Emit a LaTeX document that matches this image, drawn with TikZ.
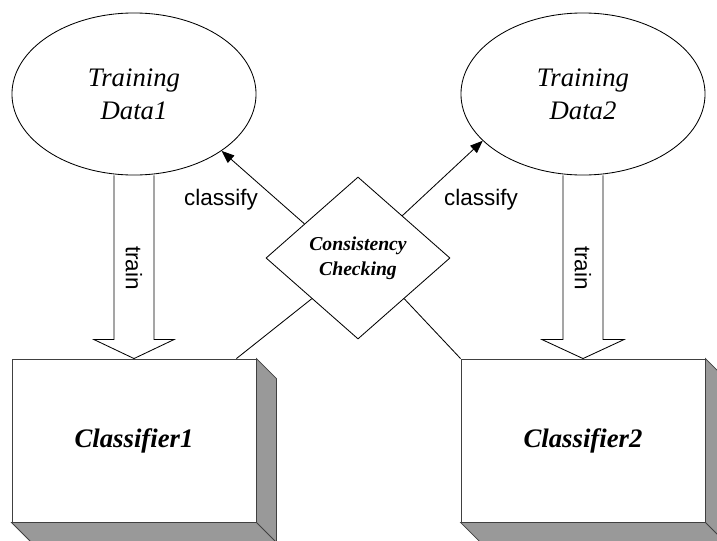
\documentclass[tikz,border=0pt]{standalone}
\usepackage{fontspec}
\setmainfont{Liberation Serif}
\setsansfont{Liberation Sans}
\usepackage{tikz}
\usetikzlibrary{positioning, arrows.meta, shapes.geometric, calc}

\tikzset{
    data/.style={ellipse, draw, fill=white, minimum width=6.1cm, minimum height=4.05cm,
        align=center, font=\itshape\fontsize{19}{23.4}\selectfont},
    classifier/.style={rectangle, draw=black!75, fill=white, minimum width=6.1cm,
        minimum height=4.075cm, font=\bfseries\itshape\fontsize{19}{23}\selectfont},
    checker/.style={diamond, draw, fill=white, minimum width=4.6cm, minimum height=4.05cm,
        inner sep=0pt, align=center, font=\bfseries\itshape\fontsize{14}{17.7}\selectfont},
    side/.style={draw=black!75, fill=black!40},
    lbl/.style={font=\sffamily\fontsize{16}{18}\selectfont},
    blockarrow/.style={draw, line width=0.6pt},
    link/.style={draw, line width=0.6pt},
}

\begin{document}
\begin{tikzpicture}[x=0.025cm, y=-0.025cm, line width=0.6pt]
    \useasboundingbox (0,0) rectangle (717,540);
    \clip (0,0) rectangle (717,540);

    % Training sets
    \node[data] (td1) at (134, 94) {Training\\Data1};
    \node[data] (td2) at (583, 94) {Training\\Data2};

    % Classifiers
    \node[classifier] (cf1) at (134, 440.5) {Classifier1};
    \node[classifier] (cf2) at (583, 440.5) {Classifier2};
    % 3D sides of the classifiers
    \filldraw[side] (cf1.north east) -- ++(20,20) -- ($(cf1.south east)+(20,20)$)
        -- ($(cf1.south west)+(20,20)$) -- (cf1.south west) -- (cf1.south east) -- cycle;
    \draw[draw=black!75] (cf1.south east) -- ++(20,20);
    \filldraw[side] (cf2.north east) -- ++(20,20) -- ($(cf2.south east)+(20,20)$)
        -- ($(cf2.south west)+(20,20)$) -- (cf2.south west) -- (cf2.south east) -- cycle;
    \draw[draw=black!75] (cf2.south east) -- ++(20,20);

    % Consistency check
    \node[checker] (cc) at (358, 258) {Consistency\\Checking};

    % Train arrows
    \draw[blockarrow] ($(td1.south)+(-20,0)$) -- ($(cf1.north)+(-20,-19)$) -- ($(cf1.north)+(-40,-19)$)
        -- (cf1.north) -- ($(cf1.north)+(40,-19)$) -- ($(cf1.north)+(20,-19)$) -- ($(td1.south)+(20,0)$);
    \node[lbl, rotate=-90] (tr1) at (134, 268) {train};
    \draw[blockarrow] ($(td2.south)+(-20,0)$) -- ($(cf2.north)+(-20,-19)$) -- ($(cf2.north)+(-41,-19)$)
        -- (cf2.north) -- ($(cf2.north)+(41,-19)$) -- ($(cf2.north)+(20,-19)$) -- ($(td2.south)+(20,0)$);
    \node[lbl, rotate=-90] (tr2) at (583, 268) {train};

    % Classify arrows
    \draw[link, -{Triangle[length=9pt, width=7pt]}] ($(cc.west)!0.42!(cc.north)$) -- (td1.-33);
    \node[lbl] (cl1) at (221, 200) {classify};
    \draw[link, -{Triangle[length=9pt, width=7pt]}] ($(cc.north)!0.48!(cc.east)$) -- (td2.-155);
    \node[lbl] (cl2) at (481, 200) {classify};

    % Links down to the classifiers
    \draw[link] (cc.south west) -- ([xshift=-0.5cm]cf1.north east);
    \draw[link] (cc.south east) -- (cf2.north west);
\end{tikzpicture}
\end{document}
